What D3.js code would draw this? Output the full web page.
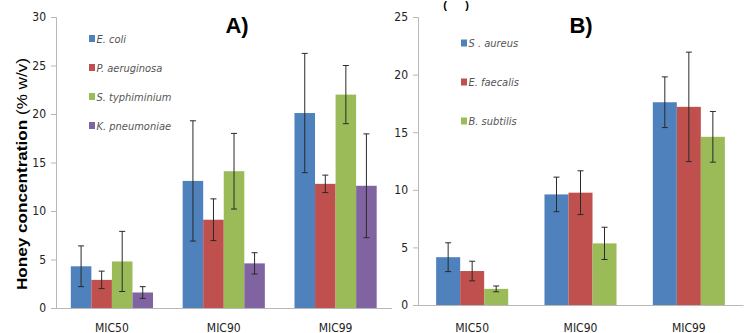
<!DOCTYPE html>
<html>
<head>
<meta charset="utf-8">
<script src="https://cdn.jsdelivr.net/npm/d3@7"></script>
<style>
  html, body { margin: 0; padding: 0; background: #fff; overflow: hidden; }
  svg { display: block; }
  .tick-text { font-family: "Liberation Sans Narrow", "DejaVu Sans Condensed", "Liberation Sans", sans-serif; font-size: 12px; fill: #222; }
  .legend-text { font-family: "Liberation Sans Narrow", "DejaVu Sans Condensed", "Liberation Sans", sans-serif; font-size: 11px; font-style: italic; fill: #555; }
</style>
</head>
<body>
<svg id="chart" width="750" height="333"></svg>
<script>
// ---------- Data ----------
const categories = ["MIC50", "MIC90", "MIC99"];

// Panel A
const seriesA = ["E. coli", "P. aeruginosa", "S. typhiminium", "K. pneumoniae"];
const valuesA = [
  [4.3, 13.1, 20.1],   // E. coli
  [2.9, 9.1, 12.8],    // P. aeruginosa
  [4.8, 14.1, 22.0],   // S. typhiminium
  [1.6, 4.6, 12.6]     // K. pneumoniae
];
const errorsA = [
  [2.1, 6.2, 6.15],
  [0.9, 2.15, 0.9],
  [3.1, 3.9, 3.0],
  [0.6, 1.1, 5.35]
];
const ticksA = [0, 5, 10, 15, 20, 25, 30];

// Panel B
const seriesB = ["S . aureus", "E. faecalis", "B. subtilis"];
const valuesB = [
  [4.15, 9.6, 17.6],   // S. aureus
  [2.95, 9.75, 17.2],  // E. faecalis
  [1.4, 5.35, 14.6]    // B. subtilis
];
const errorsB = [
  [1.25, 1.5, 2.2],
  [0.85, 1.9, 4.75],
  [0.25, 1.4, 2.2]
];
const ticksB = [0, 5, 10, 15, 20, 25];

const colors = ["#4F81BD", "#C0504D", "#9BBB59", "#8064A2"];
const yLabel = "Honey concentration";
const yUnit = "(% w/v)";

// ---------- Drawing ----------
const svg = d3.select("#chart");

function panel(cfg) {
  const g = svg.append("g");
  const x0 = d3.scaleBand().domain(categories)
    .range([cfg.left, cfg.right]).paddingInner(cfg.pad).paddingOuter(cfg.pad / 2);
  const x1 = d3.scaleBand().domain(d3.range(cfg.series.length))
    .range([0, x0.bandwidth()]);
  const y = d3.scaleLinear().domain([0, cfg.max]).range([cfg.bottom, cfg.top]);

  // y axis
  const yAxis = d3.axisLeft(y).tickValues(cfg.ticks).tickSize(5).tickPadding(5);
  const ya = g.append("g").attr("transform", `translate(${cfg.left},0)`).call(yAxis);
  ya.select(".domain").attr("stroke", "#b8b8b8");
  ya.selectAll(".tick line").attr("stroke", "#b8b8b8");
  ya.selectAll(".tick text").attr("class", "tick-text").attr("font-size", null).attr("font-family", null);

  // x axis
  const xAxis = d3.axisBottom(x0).tickSize(0).tickPadding(14);
  const xa = g.append("g").attr("transform", `translate(0,${cfg.bottom})`).call(xAxis);
  xa.select(".domain").attr("stroke", "#b8b8b8");
  xa.selectAll(".tick text").attr("class", "tick-text").attr("font-family", null)
    .attr("font-size", "12px")
    .attr("dy", null)
    .attr("y", cfg.labelBaseline - cfg.bottom);

  // bars
  cfg.series.forEach((s, si) => {
    categories.forEach((c, ci) => {
      const v = cfg.values[si][ci];
      const e = cfg.errors[si][ci];
      const bx = x0(c) + x1(si);
      const bw = x1.bandwidth();
      g.append("rect")
        .attr("x", bx).attr("y", y(v))
        .attr("width", bw).attr("height", y(0) - y(v))
        .attr("fill", colors[si]);
      const cx = bx + bw / 2;
      const eg = g.append("g").attr("stroke", "#2a2a2a").attr("stroke-width", 1);
      eg.append("line").attr("x1", cx).attr("x2", cx).attr("y1", y(v + e)).attr("y2", y(v - e));
      eg.append("line").attr("x1", cx - 3).attr("x2", cx + 3).attr("y1", y(v + e)).attr("y2", y(v + e));
      eg.append("line").attr("x1", cx - 3).attr("x2", cx + 3).attr("y1", y(v - e)).attr("y2", y(v - e));
    });
  });

  // legend
  cfg.series.forEach((s, si) => {
    const ly = cfg.legY + si * cfg.legStep;
    g.append("rect").attr("x", cfg.legX).attr("y", ly - 3.5)
      .attr("width", 6).attr("height", 7).attr("fill", colors[si]);
    g.append("text").attr("class", "legend-text")
      .attr("x", cfg.legX + 7.5).attr("y", ly + 4).text(s);
  });

  // panel title
  g.append("text").attr("x", cfg.titleX).attr("y", 33)
    .attr("text-anchor", "middle")
    .attr("font-family", "Liberation Sans, Arial, sans-serif")
    .attr("font-weight", "bold").attr("font-size", "22px").attr("fill", "#000")
    .text(cfg.title);
}

panel({
  left: 56, right: 391.5, top: 17, bottom: 308, max: 30, pad: 0.265,
  series: seriesA, values: valuesA, errors: errorsA, ticks: ticksA,
  legX: 89, legY: 38.5, legStep: 29, titleX: 237, title: "A)", labelBaseline: 331.5
});

panel({
  left: 418, right: 743, top: 17, bottom: 305, max: 25, pad: 0.335,
  series: seriesB, values: valuesB, errors: errorsB, ticks: ticksB,
  legX: 461, legY: 43, legStep: 39, titleX: 581, title: "B)", labelBaseline: 331.5
});

// small fragment at top (parentheses of a cropped heading)
svg.append("text").attr("x", 456).attr("y", 9).attr("text-anchor", "middle")
  .attr("font-family", "Liberation Sans, Arial, sans-serif")
  .attr("font-weight", "bold").attr("font-size", "11px").attr("fill", "#000")
  .attr("xml:space", "preserve")
  .text("(      )");

// y-axis title
const yt = svg.append("text")
  .attr("transform", "translate(27,174) rotate(-90)")
  .attr("text-anchor", "middle")
  .attr("font-family", "Liberation Sans, Arial, sans-serif")
  .attr("font-size", "14px").attr("fill", "#000")
  .attr("textLength", 232).attr("lengthAdjust", "spacingAndGlyphs");
yt.append("tspan").attr("font-weight", "bold").text(yLabel + " ");
yt.append("tspan").text(yUnit);
</script>
</body>
</html>
